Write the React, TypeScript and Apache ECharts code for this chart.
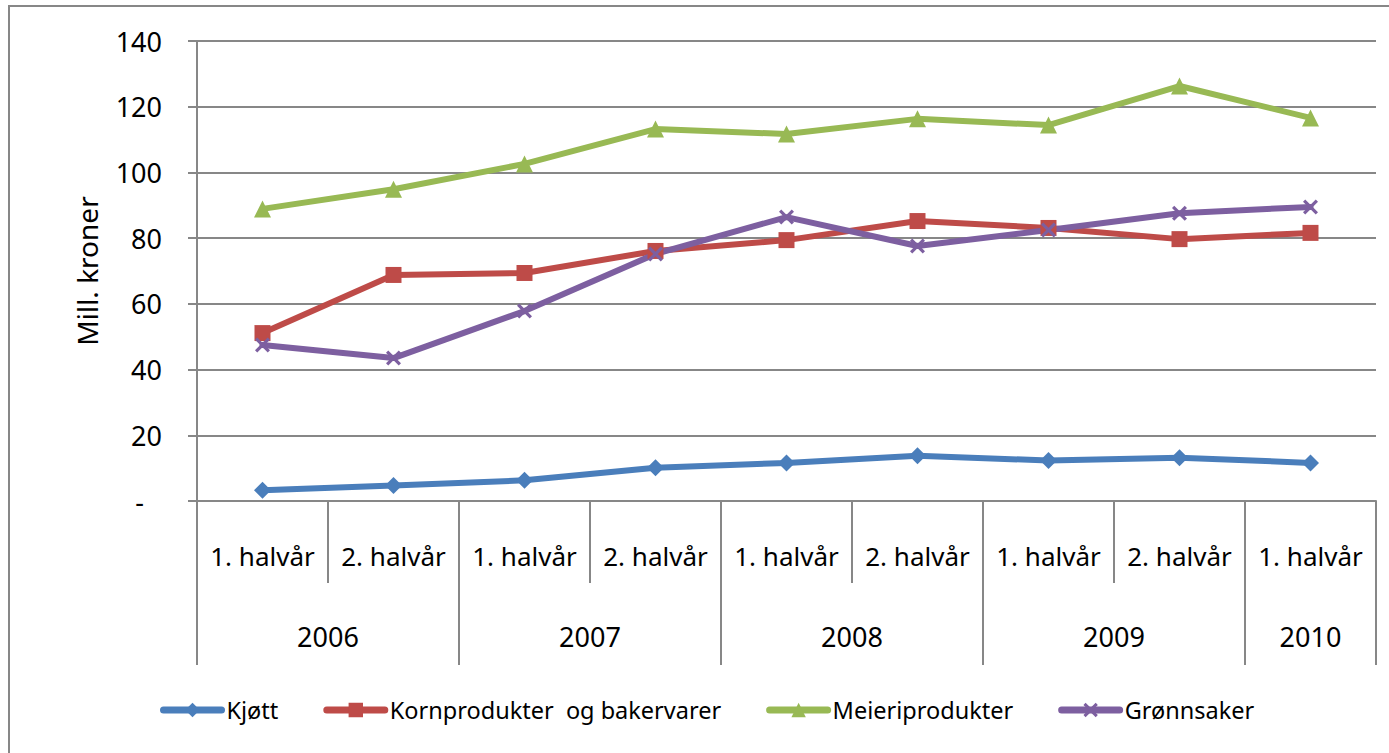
import React, { useEffect, useRef } from "react";
import * as echarts from "echarts";

const halfYears = ["1. halvår", "2. halvår", "1. halvår", "2. halvår", "1. halvår", "2. halvår", "1. halvår", "2. halvår", "1. halvår"];
const years = ["2006", "2007", "2008", "2009", "2010"];
const yearSpans = [2, 2, 2, 2, 1];

const kjott = [3.3, 4.7, 6.3, 10.1, 11.6, 13.8, 12.3, 13.2, 11.6];
const korn = [51.1, 68.8, 69.4, 76.1, 79.4, 85.2, 83.1, 79.7, 81.6];
const meieri = [88.9, 94.9, 102.6, 113.2, 111.7, 116.3, 114.4, 126.3, 116.6];
const gronn = [47.5, 43.5, 57.8, 75.2, 86.4, 77.6, 82.5, 87.6, 89.5];

const seriesNames = ["Kjøtt", "Kornprodukter  og bakervarer", "Meieriprodukter", "Grønnsaker"];
const yTicks = [0, 20, 40, 60, 80, 100, 120, 140];

const FONT = "Noto Sans";
const GRAY = "#878787";

export default function App() {
  const ref = useRef<HTMLDivElement>(null);
  useEffect(() => {
    document.body.style.margin = "0";
    const chart = echarts.init(ref.current!, null, { renderer: "svg" });

    const yearBounds: number[] = [0];
    const yearCenters: number[] = [];
    let acc = 0;
    yearSpans.forEach((s) => {
      yearCenters.push(acc + s / 2);
      acc += s;
      yearBounds.push(acc);
    });

    const xSymbol = "path://M1.5,0 L5,3.5 L8.5,0 L10,1.5 L6.5,5 L10,8.5 L8.5,10 L5,6.5 L1.5,10 L0,8.5 L3.5,5 L0,1.5 Z";

    const mk = (name: string, data: number[], color: string, symbol: string, size: number) => ({
      name,
      type: "line",
      data,
      xAxisIndex: 0,
      yAxisIndex: 0,
      symbol,
      symbolSize: size,
      showAllSymbol: true,
      itemStyle: { color },
      lineStyle: { color, width: 6, cap: "round" },
    });

    chart.setOption({
      animation: false,
      backgroundColor: "#fff",
      textStyle: { fontFamily: FONT },
      graphic: [
        {
          type: "rect",
          z: -10,
          shape: { x: 9, y: 6, width: 1420, height: 800 },
          style: { fill: "none", stroke: GRAY, lineWidth: 2 },
        },
      ],
      grid: { left: 197, right: 13, top: 41, bottom: 252, containLabel: false },
      legend: {
        left: 155,
        top: 693,
        itemWidth: 58,
        itemHeight: 18,
        itemGap: 45,
        lineStyle: { width: 7, cap: "round" },
        textStyle: { fontFamily: FONT, fontSize: 23.5, color: "#000" },
        data: seriesNames,
      },
      xAxis: [
        {
          type: "category",
          data: halfYears,
          boundaryGap: true,
          position: "bottom",
          axisLine: { show: true, lineStyle: { color: GRAY, width: 2 } },
          axisTick: { show: true, interval: 0, length: 82, lineStyle: { color: GRAY, width: 2 } },
          axisLabel: { interval: 0, margin: 42, fontSize: 26, color: "#000", fontFamily: FONT },
          splitLine: { show: false },
        },
        {
          type: "value",
          min: 0,
          max: halfYears.length,
          position: "bottom",
          axisLine: { show: false },
          axisTick: { show: true, length: 164, customValues: yearBounds, lineStyle: { color: GRAY, width: 2 } },
          axisLabel: {
            show: true,
            customValues: yearCenters,
            margin: 122,
            fontSize: 27,
            color: "#000",
            fontFamily: FONT,
            formatter: (v: number) => {
              const i = yearCenters.findIndex((c) => Math.abs(c - v) < 1e-6);
              return i >= 0 ? years[i] : "";
            },
          },
          splitLine: { show: false },
        },
      ],
      yAxis: {
        type: "value",
        min: yTicks[0],
        max: yTicks[yTicks.length - 1],
        interval: 20,
        name: "Mill. kroner",
        nameLocation: "middle",
        nameRotate: 90,
        nameGap: 96,
        nameTextStyle: { fontSize: 28, color: "#000", fontFamily: FONT },
        axisLine: { show: true, lineStyle: { color: GRAY, width: 2 } },
        axisTick: { show: true, length: 9, lineStyle: { color: GRAY, width: 2 } },
        axisLabel: {
          margin: 35,
          fontSize: 27,
          color: "#000",
          fontFamily: FONT,
          formatter: (v: number) => (v === 0 ? "{z|-}" : String(v)),
          rich: { z: { fontSize: 27, color: "#000", fontFamily: FONT, padding: [0, 18, 0, 0] } },
        },
        splitLine: { show: true, lineStyle: { color: GRAY, width: 2 } },
      },
      series: [
        mk(seriesNames[0], kjott, "#4A7EBB", "diamond", 17),
        mk(seriesNames[1], korn, "#BE4B48", "rect", 16),
        mk(seriesNames[2], meieri, "#98B954", "triangle", 17),
        mk(seriesNames[3], gronn, "#7D5FA0", xSymbol, 15),
      ],
    });
    return () => chart.dispose();
  }, []);
  return <div ref={ref} style={{ width: 1389, height: 753 }} />;
}
